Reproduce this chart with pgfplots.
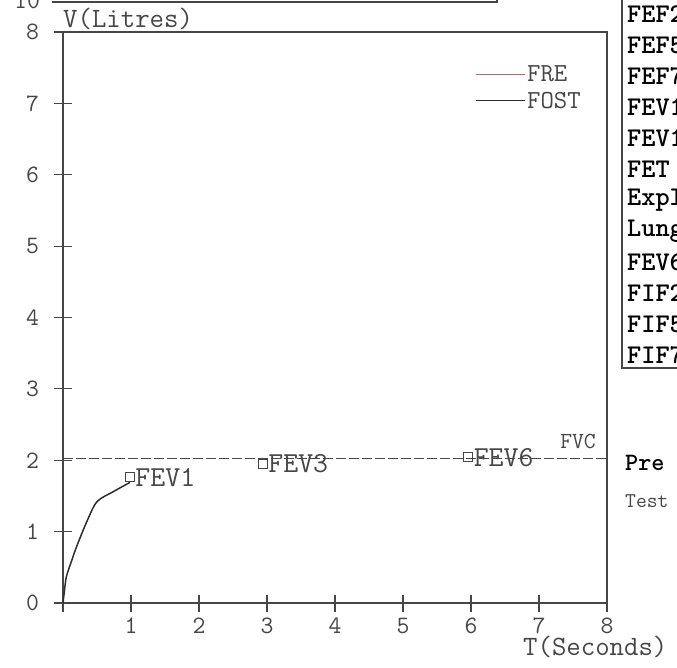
\documentclass[border=0pt]{standalone}
\usepackage{pgfplots}
\pgfplotsset{compat=1.18}
\usepackage{fontspec}
\newfontfamily\tabfont{lmmonolt10-bold.otf}
\definecolor{ink}{RGB}{70,70,70}
\definecolor{prered}{RGB}{170,110,110}
\definecolor{curve}{RGB}{45,45,45}
\newcommand{\fs}[1]{\ttfamily\fontsize{#1bp}{#1bp}\selectfont}
\newcommand{\bfs}[1]{\tabfont\fontsize{#1bp}{#1bp}\selectfont}

\begin{document}
\begin{tikzpicture}
\path[use as bounding box] (0bp,0bp) rectangle (677bp,-668bp);
\clip (0bp,0bp) rectangle (677bp,-668bp);

% strip left over from the plot above
\draw[ink, line width=1.3bp] (52bp,-2bp) -- (497bp,-2bp) -- (497bp,0bp);
\node[anchor=base, text=ink, font=\fs{25}] at (27bp,-8bp) {10};

\begin{axis}[
    at={(63bp,-603bp)}, anchor=south west,
    scale only axis, width=544bp, height=571bp,
    xmin=0, xmax=8, ymin=0, ymax=8,
    clip=false,
    axis line style={ink, line width=1.4bp},
    xtick={0,...,8}, xticklabels={,1,2,3,4,5,6,7,8},
    ytick={0,...,8},
    xtick pos=left, ytick pos=left,
    tick align=center, major tick length=17bp,
    tick style={ink, line width=1.2bp},
    /pgf/number format/assume math mode=true,
    ticklabel style={font=\fs{25}, text=ink},
    xticklabel style={yshift=-3bp},
    yticklabel style={xshift=-12bp},
    legend style={at={(axis description cs:0.757,0.945)}, anchor=north west,
        draw=none, fill=none, font=\fs{26}, text=ink, inner sep=0pt,
        row sep=5bp},
    legend cell align=left,
    legend image code/.code={\draw[#1] (0bp,0bp) -- (25bp,0bp); \path (0bp,0bp) -- (49bp,0bp);},
]
\addlegendimage{prered, line width=1.2bp}
\addlegendentry{FRE}
\addlegendimage{curve, line width=1.2bp}
\addlegendentry{FOST}

% FVC level
\addplot[ink, line width=1.2bp, dash pattern=on 10bp off 3bp] coordinates {(0,2.03) (8,2.03)};

% expiration curve
\addplot[curve, line width=1.5bp, smooth] coordinates {
(0,0) (0.02,0.16) (0.05,0.37) (0.13,0.60) (0.2,0.79) (0.35,1.14)
(0.5,1.42) (0.74,1.56) (0.985,1.69)
};

% markers
\addplot[only marks, mark=square, mark size=4.5bp, ink, line width=1bp,
    nodes near coords, point meta=explicit symbolic,
    nodes near coords style={anchor=west, xshift=5bp, font=\fs{29}, text=ink, inner sep=0pt}]
    coordinates {(0.985,1.76)[FEV1] (2.94,1.95)[FEV3] (5.96,2.04)[FEV6]};

\node[anchor=base west, font=\fs{23}, text=ink, inner sep=0pt] at (axis cs:7.31,2.17) {FVC};
\end{axis}

\node[anchor=base west, font=\fs{28}, text=ink, inner sep=0pt] at (63bp,-27bp) {V(Litres)};
\node[anchor=base west, font=\fs{28}, text=ink, inner sep=0pt] at (523bp,-655bp) {T(Seconds)};

% side table
\draw[ink, line width=1.3bp] (622bp,0bp) -- (622bp,-368bp) -- (677bp,-368bp);
\foreach \t [count=\i from 0] in {FEF25,FEF50,FEF75,FEV1,FEV1\%,FET,Expl,Lung,FEV6,FIF25,FIF50,FIF75}{
  \node[anchor=west, font=\bfs{27}, inner sep=0pt] at (627bp,{-14bp-31bp*\i}) {\t};
}
\node[anchor=base west, font=\bfs{25}, inner sep=0pt] at (625bp,-470bp) {Pre};
\node[anchor=base west, font=\fs{21}, text=ink, inner sep=0pt] at (625bp,-507bp) {Test};
\end{tikzpicture}
\end{document}
